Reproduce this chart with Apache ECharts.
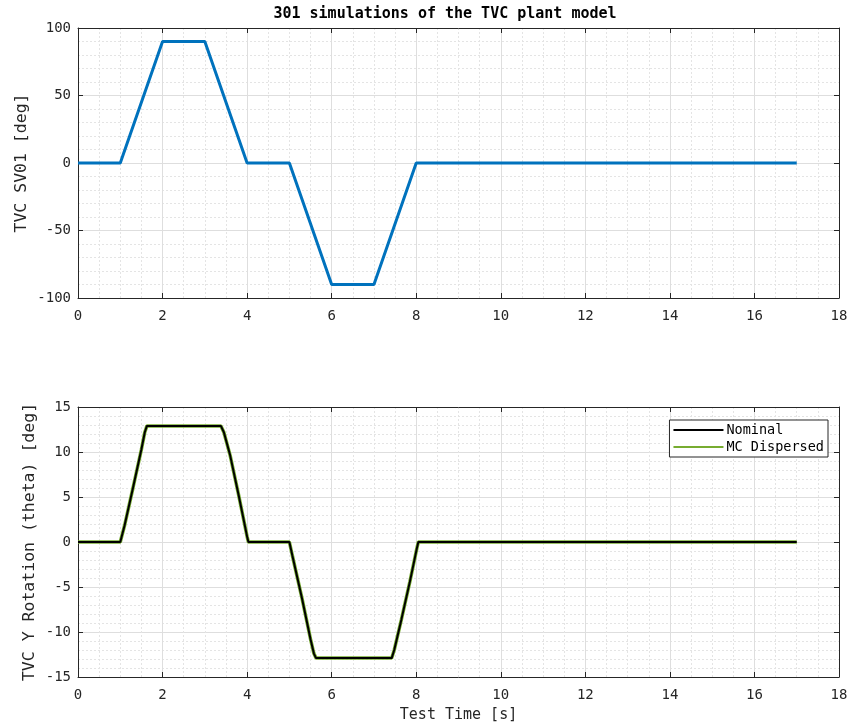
<!DOCTYPE html>
<html>
<head>
<meta charset="utf-8">
<script src="https://cdn.jsdelivr.net/npm/echarts@6/dist/echarts.min.js"></script>
<style>html,body{margin:0;padding:0;background:#fff}#c{width:852px;height:728px}</style>
</head>
<body>
<div id="c"></div>
<script>
// ---- data ----
var titleText = '301 simulations of the TVC plant model';
var tSv01 = [0, 1, 2, 3, 4, 5, 6, 7, 8, 17];
var sv01 = [0, 0, 90, 90, 0, 0, -90, -90, 0, 0];
var tTheta = [0, 1, 1.1, 1.3, 1.5, 1.58, 1.63, 3.38, 3.45, 3.6, 3.8, 4.0, 4.03, 5, 5.07, 5.3, 5.5, 5.58, 5.63, 7.42, 7.48, 7.65, 7.85, 8.02, 8.05, 17];
var thetaNominal = [0, 0, 1.8, 6.0, 10.3, 12.2, 12.9, 12.9, 12.2, 9.6, 5.2, 0.6, 0, 0, -1.5, -6.3, -10.8, -12.4, -12.9, -12.9, -12.0, -8.6, -4.4, -0.6, 0, 0];
var thetaMC = [0, 0, 1.8, 6.0, 10.3, 12.2, 12.9, 12.9, 12.2, 9.6, 5.2, 0.6, 0, 0, -1.5, -6.3, -10.8, -12.4, -12.9, -12.9, -12.0, -8.6, -4.4, -0.6, 0, 0];

function pairs(xs, ys) { return xs.map(function (x, i) { return [x, ys[i]]; }); }

var FONT = 'DejaVu Sans Mono';
var AX = '#262626';
var chart = echarts.init(document.getElementById('c'), null, { renderer: 'canvas' });

function xAxisFor(gi, showName) {
  return [{
    type: 'value', gridIndex: gi, min: 0, max: 18, interval: 2, position: 'bottom',
    name: showName ? 'Test Time [s]' : '', nameLocation: 'middle', nameGap: 31,
    nameMoveOverlap: false,
    nameTextStyle: { fontFamily: FONT, fontSize: 15, color: AX },
    axisLine: { show: true, onZero: false, lineStyle: { color: AX } },
    axisTick: { show: true, inside: true, length: 5, lineStyle: { color: AX } },
    minorTick: { show: false, splitNumber: 4 },
    axisLabel: { fontFamily: FONT, fontSize: 14, color: AX, margin: 11 },
    splitLine: { show: true, lineStyle: { color: '#dedede', width: 1 } },
    minorSplitLine: { show: true, lineStyle: { color: '#e4e4e4', type: [2, 2], width: 1 } }
  }, {
    type: 'value', gridIndex: gi, min: 0, max: 18, interval: 2, position: 'top',
    axisLine: { show: true, onZero: false, lineStyle: { color: AX } },
    axisTick: { show: true, inside: true, length: 5, lineStyle: { color: AX } },
    axisLabel: { show: false }, splitLine: { show: false }
  }];
}
function yAxisFor(gi, min, max, interval, name, gap) {
  return [{
    type: 'value', gridIndex: gi, min: min, max: max, interval: interval, position: 'left',
    name: name, nameLocation: 'middle', nameGap: gap, nameRotate: 90,
    nameMoveOverlap: false,
    nameTextStyle: { fontFamily: FONT, fontSize: 16.5, color: AX },
    axisLine: { show: true, onZero: false, lineStyle: { color: AX } },
    axisTick: { show: true, inside: true, length: 5, lineStyle: { color: AX } },
    minorTick: { show: false, splitNumber: 5 },
    axisLabel: { fontFamily: FONT, fontSize: 14, color: AX, margin: 7 },
    splitLine: { show: true, lineStyle: { color: '#dedede', width: 1 } },
    minorSplitLine: { show: true, lineStyle: { color: '#e4e4e4', type: [2, 2], width: 1 } }
  }, {
    type: 'value', gridIndex: gi, min: min, max: max, interval: interval, position: 'right',
    axisLine: { show: true, onZero: false, lineStyle: { color: AX } },
    axisTick: { show: true, inside: true, length: 5, lineStyle: { color: AX } },
    axisLabel: { show: false }, splitLine: { show: false }
  }];
}

var xAxes = xAxisFor(0, false).concat(xAxisFor(1, true));
var yAxes = yAxisFor(0, -100, 100, 50, 'TVC SV01 [deg]', 48).concat(yAxisFor(1, -15, 15, 5, 'TVC Y Rotation (theta) [deg]', 40));

chart.setOption({
  animation: false,
  backgroundColor: '#ffffff',
  title: {
    text: titleText, left: 440, top: 2, textAlign: 'center',
    textStyle: { fontFamily: FONT, fontSize: 15, fontWeight: 'bold', color: '#000' }
  },
  grid: [
    { left: 78, top: 28, width: 761, height: 270 },
    { left: 78, top: 407, width: 761, height: 270 }
  ],
  legend: {
    data: ['Nominal', 'MC Dispersed'], orient: 'vertical',
    right: 24, top: 420, icon: 'rect', itemWidth: 50, itemHeight: 2, itemGap: 3,
    padding: [3, 4, 3, 4],
    backgroundColor: '#fff', borderColor: '#262626', borderWidth: 1,
    textStyle: { fontFamily: FONT, fontSize: 13.5, color: '#000', padding: [0, 0, 0, -2] }
  },
  xAxis: xAxes,
  yAxis: yAxes,
  series: [
    { name: 'SV01', type: 'line', xAxisIndex: 0, yAxisIndex: 0, data: pairs(tSv01, sv01),
      showSymbol: false, lineStyle: { color: '#0072BD', width: 3 }, itemStyle: { color: '#0072BD' } },
    { name: 'MC Dispersed', type: 'line', xAxisIndex: 2, yAxisIndex: 2, data: pairs(tTheta, thetaMC),
      showSymbol: false, z: 2, lineStyle: { color: '#77AC30', width: 3.5 }, itemStyle: { color: '#77AC30' } },
    { name: 'Nominal', type: 'line', xAxisIndex: 2, yAxisIndex: 2, data: pairs(tTheta, thetaNominal),
      showSymbol: false, z: 3, lineStyle: { color: '#000000', width: 2 }, itemStyle: { color: '#000000' } }
  ]
});
</script>
</body>
</html>
